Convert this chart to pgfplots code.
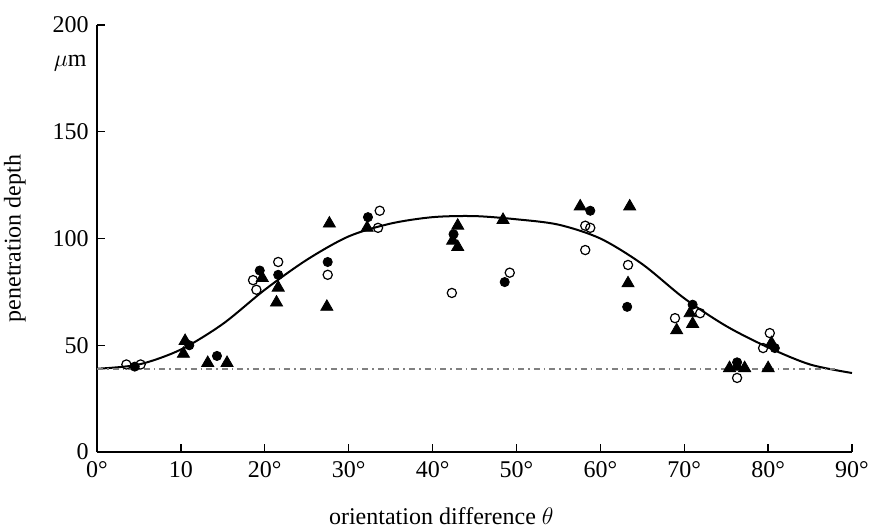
\documentclass[border=0pt]{standalone}
\usepackage{fontspec}
\setmainfont{Liberation Serif}
\usepackage{pgfplots}
\pgfplotsset{compat=1.18}
\begin{document}
\fontsize{12}{14}\selectfont
\begin{tikzpicture}
\begin{axis}[
  scale only axis, width=377.5pt, height=213.5pt,
  xmin=0, xmax=90, ymin=0, ymax=200,
  axis x line=bottom, axis y line=left,
  axis line style={-, line width=0.8pt},
  tick align=inside, major tick length=4pt,
  tick style={line width=0.7pt, black},
  xtick={0,10,20,30,40,50,60,70,80,90},
  xticklabels={0°,10,20°,30°,40°,50°,60°,70°,80°,90°},
  ytick={0,50,100,150,200},
  /pgf/number format/assume math mode=true,
  tick label style={font=\fontsize{12}{14}\selectfont},
  xticklabel style={inner sep=1pt, yshift=-3.5pt},
  xlabel={orientation difference $\theta$},
  ylabel={penetration depth},
  xlabel style={at={(axis description cs:0.456,0)}, anchor=base, yshift=-36pt, inner sep=0pt, font=\fontsize{12}{14}\selectfont},
  ylabel style={at={(axis description cs:-0.094,0.5)}, anchor=south, inner sep=0pt, font=\fontsize{12}{14}\selectfont},
  clip=false,
]
% fitted curve
\addplot[black, line width=1pt, smooth, no marks] coordinates {
(0,39) (5,41) (10,48) (15,60) (20,76) (25,90) (30,101) (35,107) (40,110)
(45,110.5) (50,109) (55,106.5) (60,100) (65,88) (70,72) (75,59) (80,49) (85,41) (90,37)};
% reference level
\addplot[gray, line width=0.8pt, dash dot, no marks] coordinates {(0,39) (88,39)};
% triangles
\addplot[only marks, mark=triangle*, mark size=3.5pt, black] coordinates {
(10.5,52) (10.3,46) (13.2,41.7) (15.5,41.7) (19.7,81.5) (21.6,77) (21.4,70)
(27.7,107) (27.4,68) (32.2,105) (43,106) (42.4,99) (43,96) (48.4,108.7)
(57.6,115) (63.5,115) (63.3,79) (71,60) (69.1,57) (70.7,65)
(75.4,39.3) (76.3,40) (77.2,39.3) (80,39.3) (80.4,51)};
% filled circles
\addplot[only marks, mark=*, mark size=2.3pt, black] coordinates {
(4.5,40) (11,50) (14.3,45) (19.4,85) (21.6,83) (27.5,89) (32.3,110)
(42.5,102) (48.6,79.6) (58.8,113) (63.2,68) (71,69) (76.3,42) (80.8,48.7)};
% open circles
\addplot[only marks, mark=o, mark size=2.3pt, black, mark options={fill=white, line width=0.6pt}] coordinates {
(3.5,41) (5.2,41) (18.6,80.5) (19,76) (21.6,89) (27.5,83) (33.7,113) (33.5,105)
(42.3,74.5) (49.2,84) (58.2,106) (58.8,105) (58.2,94.6) (63.3,87.6)
(68.9,62.7) (71.9,65) (76.3,34.7) (79.4,48.7) (80.2,55.7)};
\node[anchor=east, font=\fontsize{12}{14}\selectfont, inner sep=0pt] at ([xshift=-5pt]axis cs:0,182) {$\mu$m};
\end{axis}
\path (current axis.south west) ++(-48.5pt,-39.5pt) rectangle ([xshift=9.5pt,yshift=12.5pt]current axis.north east);
\end{tikzpicture}
\end{document}
